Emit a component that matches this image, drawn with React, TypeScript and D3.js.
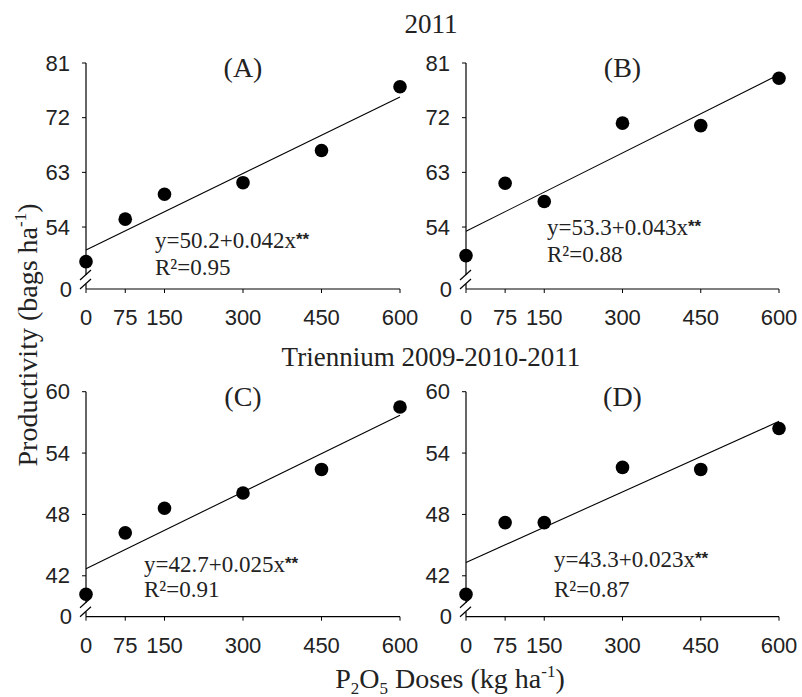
import React, { useEffect, useRef } from 'react';
import * as d3 from 'd3';

// P2O5 doses (kg/ha)
const doses = [0, 75, 150, 300, 450, 600];
const xTicks = [0, 75, 150, 300, 450, 600];

// productivity (bags/ha)
const yieldA = [48.3, 55.3, 59.4, 61.3, 66.6, 77.1];
const yieldB = [49.3, 61.2, 58.2, 71.1, 70.7, 78.5];
const yieldC = [40.2, 46.2, 48.6, 50.1, 52.4, 58.5];
const yieldD = [40.2, 47.2, 47.2, 52.6, 52.4, 56.4];

const intercepts = [50.2, 53.3, 42.7, 43.3];
const slopes = [0.042, 0.043, 0.025, 0.023];
const r2Values = ['0.95', '0.88', '0.91', '0.87'];
const panelNames = ['(A)', '(B)', '(C)', '(D)'];

const ticks2011 = [54, 63, 72, 81];
const ticksTriennium = [42, 48, 54, 60];
const domain2011 = [43.8, 81];
const domainTriennium = [38, 60];

const rowTitles = ['2011', 'Triennium 2009-2010-2011'];

const W = 802;
const H = 697;
const serif = "'Liberation Serif', 'Times New Roman', serif";
const sans = "'Liberation Sans', Arial, sans-serif";

export default function App() {
    const svgRef = useRef<SVGSVGElement>(null);

    useEffect(() => {
        if (!svgRef.current) return;
        const svg = d3.select(svgRef.current);
        svg.selectAll('*').remove();

        const cols = [{ left: 86, right: 400 }, { left: 466, right: 779 }];
        const rows = [{ top: 63, bottom: 289 }, { top: 391.7, bottom: 616.7 }];
        // equation text placement (px offset from y axis, baselines)
        const eqPos = [
            { dx: 69, y1: 248, y2: 275 },
            { dx: 81, y1: 235, y2: 262 },
            { dx: 58, y1: 572, y2: 597 },
            { dx: 88, y1: 567, y2: 597 },
        ];
        const series = [yieldA, yieldB, yieldC, yieldD];

        series.forEach((vals, i) => {
            const c = cols[i % 2];
            const r = rows[Math.floor(i / 2)];
            const yTicks = i < 2 ? ticks2011 : ticksTriennium;
            const dom = i < 2 ? domain2011 : domainTriennium;

            const x = d3.scaleLinear().domain([0, 600]).range([c.left, c.right]);
            const y = d3.scaleLinear().domain(dom).range([r.bottom, r.top]);
            const g = svg.append('g');

            // y axis with break near the bottom
            g.append('line')
                .attr('x1', c.left).attr('x2', c.left)
                .attr('y1', r.top).attr('y2', r.bottom - 14)
                .attr('stroke', '#000').attr('stroke-width', 1.2);
            g.append('line')
                .attr('x1', c.left).attr('x2', c.left)
                .attr('y1', r.bottom - 5).attr('y2', r.bottom)
                .attr('stroke', '#000').attr('stroke-width', 1.2);
            [r.bottom - 14, r.bottom - 5].forEach(by => {
                g.append('line')
                    .attr('x1', c.left - 6).attr('y1', by + 5)
                    .attr('x2', c.left + 5).attr('y2', by - 5)
                    .attr('stroke', '#000').attr('stroke-width', 1.2);
            });

            // x axis
            g.append('line')
                .attr('x1', c.left).attr('x2', c.right)
                .attr('y1', r.bottom).attr('y2', r.bottom)
                .attr('stroke', '#000').attr('stroke-width', 1.2);

            xTicks.forEach(t => {
                g.append('line')
                    .attr('x1', x(t)).attr('x2', x(t))
                    .attr('y1', r.bottom).attr('y2', r.bottom + 4)
                    .attr('stroke', '#000');
                g.append('text')
                    .attr('x', x(t)).attr('y', r.bottom + 36)
                    .attr('text-anchor', 'middle')
                    .attr('font-family', sans).attr('font-size', 22)
                    .attr('fill', '#222')
                    .text(t);
            });

            yTicks.forEach(t => {
                g.append('line')
                    .attr('x1', c.left - 4).attr('x2', c.left)
                    .attr('y1', y(t)).attr('y2', y(t))
                    .attr('stroke', '#000');
                g.append('text')
                    .attr('x', c.left - 16).attr('y', y(t))
                    .attr('dy', '0.35em')
                    .attr('text-anchor', 'end')
                    .attr('font-family', sans).attr('font-size', 22)
                    .attr('fill', '#222')
                    .text(t);
            });
            g.append('text')
                .attr('x', c.left - 14).attr('y', r.bottom)
                .attr('dy', '0.35em')
                .attr('text-anchor', 'end')
                .attr('font-family', sans).attr('font-size', 22)
                .attr('fill', '#222')
                .text('0');

            // fitted line
            const line = d3.line<number>().x(d => x(d)).y(d => y(intercepts[i] + slopes[i] * d));
            g.append('path')
                .attr('d', line([0, 600]))
                .attr('fill', 'none')
                .attr('stroke', '#000')
                .attr('stroke-width', 1.1);

            // points
            g.selectAll('circle.pt')
                .data(vals)
                .enter()
                .append('circle')
                .attr('class', 'pt')
                .attr('cx', (_, k) => x(doses[k]))
                .attr('cy', d => y(d))
                .attr('r', 6.8)
                .attr('fill', '#000');

            // panel label
            g.append('text')
                .attr('x', (c.left + c.right) / 2 - 0).attr('y', r.top + 14)
                .attr('text-anchor', 'middle')
                .attr('font-family', serif).attr('font-size', 28)
                .attr('fill', '#222')
                .text(panelNames[i]);

            // equation
            const ep = eqPos[i];
            const eq = g.append('text')
                .attr('x', c.left + ep.dx).attr('y', ep.y1)
                .attr('font-family', serif).attr('font-size', 23)
                .attr('fill', '#222');
            eq.append('tspan').text(`y=${intercepts[i]}+${slopes[i]}x`);
            eq.append('tspan')
                .attr('font-family', sans).attr('font-weight', 'bold')
                .attr('font-size', 17).attr('dy', -3)
                .text('**');
            g.append('text')
                .attr('x', c.left + ep.dx).attr('y', ep.y2)
                .attr('font-family', serif).attr('font-size', 23)
                .attr('fill', '#222')
                .text(`R²=${r2Values[i]}`);
        });

        // row titles
        [33, 366].forEach((ty, k) => {
            svg.append('text')
                .attr('x', 431).attr('y', ty)
                .attr('text-anchor', 'middle')
                .attr('font-family', serif).attr('font-size', 27)
                .attr('fill', '#222')
                .text(rowTitles[k]);
        });

        // y axis title
        const yt = svg.append('text')
            .attr('transform', 'translate(37,335) rotate(-90)')
            .attr('text-anchor', 'middle')
            .attr('font-family', serif).attr('font-size', 28)
            .attr('fill', '#222');
        yt.append('tspan').text('Productivity (bags ha');
        yt.append('tspan').attr('font-size', 17).attr('dy', -11).text('-1');
        yt.append('tspan').attr('dy', 11).text(')');

        // x axis title
        const xt = svg.append('text')
            .attr('x', 450).attr('y', 688)
            .attr('text-anchor', 'middle')
            .attr('font-family', serif).attr('font-size', 28)
            .attr('fill', '#222');
        xt.append('tspan').text('P');
        xt.append('tspan').attr('font-size', 17).attr('dy', 6).text('2');
        xt.append('tspan').attr('dy', -6).text('O');
        xt.append('tspan').attr('font-size', 17).attr('dy', 6).text('5');
        xt.append('tspan').attr('dy', -6).text(' Doses (kg ha');
        xt.append('tspan').attr('font-size', 17).attr('dy', -11).text('-1');
        xt.append('tspan').attr('dy', 11).text(')');
    }, []);

    return (
        <svg
            ref={svgRef}
            width={W}
            height={H}
            viewBox={`0 0 ${W} ${H}`}
            style={{ position: 'absolute', left: 0, top: 0, background: '#fff' }}
        />
    );
}
